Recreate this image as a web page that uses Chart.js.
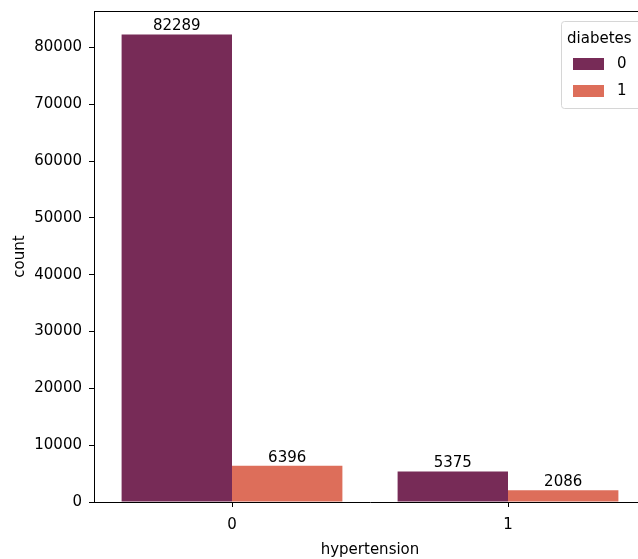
<!DOCTYPE html>
<html>
<head>
<meta charset="utf-8">
<script src="https://cdn.jsdelivr.net/npm/chart.js@4/dist/chart.umd.min.js"></script>
<style>
  body { margin: 0; overflow: hidden; background: #fff; }
  #wrap { width: 660px; height: 559px; position: relative; }
</style>
</head>
<body>
<div id="wrap"><canvas id="canvas"></canvas></div>
<script>
let categories = ['0', '1']
let diabetes0 = [82289, 5375]
let diabetes1 = [6396, 2086]
let seriesNames = ['0', '1']
let colors = ['#772B57', '#DD6E5A']
let yTicks = [0, 10000, 20000, 30000, 40000, 50000, 60000, 70000, 80000]

let font = 'DejaVu Sans'
Chart.defaults.font.family = font
Chart.defaults.font.size = 15
Chart.defaults.color = '#000'

let ctx = document.getElementById('canvas').getContext('2d')

// top spine, bar value labels and the seaborn style legend
let extras = {
    id: 'extras',
    afterDraw(chart) {
        let c = chart.ctx
        let area = chart.chartArea
        c.save()
        c.strokeStyle = '#000'
        c.lineWidth = 1
        c.beginPath()
        c.moveTo(area.left, area.top + 0.5)
        c.lineTo(chart.width, area.top + 0.5)
        c.stroke()

        c.font = '15px "' + font + '"'
        c.fillStyle = '#000'
        c.textAlign = 'center'
        c.textBaseline = 'alphabetic'
        chart.data.datasets.forEach(function(ds, i) {
            chart.getDatasetMeta(i).data.forEach(function(bar, j) {
                c.fillText(String(ds.data[j]), bar.x, bar.y - 4)
            })
        })

        // legend
        let lx = 561, ly = 21, lw = 110, lh = 87
        c.beginPath()
        c.roundRect(lx + 0.5, ly + 0.5, lw, lh, 3)
        c.fillStyle = 'rgba(255,255,255,0.8)'
        c.fill()
        c.strokeStyle = '#d6d6d6'
        c.stroke()
        c.fillStyle = '#000'
        c.textAlign = 'left'
        c.textBaseline = 'middle'
        c.fillText('diabetes', 567, 39)
        seriesNames.forEach(function(name, i) {
            let cy = 64 + i * 27
            c.fillStyle = colors[i]
            c.fillRect(573, cy - 6, 31, 12)
            c.fillStyle = '#000'
            c.fillText(name, 617, cy)
        })
        c.restore()
    }
}

new Chart(ctx, {
    type: 'bar',
    data: {
        labels: categories,
        datasets: [
            { label: seriesNames[0], data: diabetes0, backgroundColor: colors[0] },
            { label: seriesNames[1], data: diabetes1, backgroundColor: colors[1] }
        ]
    },
    options: {
        responsive: true,
        maintainAspectRatio: false,
        animation: false,
        categoryPercentage: 0.8,
        barPercentage: 1.0,
        layout: { padding: { top: 11, right: 14, left: 0, bottom: 0 } },
        plugins: {
            legend: { display: false },
            tooltip: { enabled: false }
        },
        scales: {
            x: {
                grid: { display: true, drawOnChartArea: false, offset: false, tickLength: 5, color: '#000' },
                border: { display: true, color: '#000', width: 1 },
                ticks: { padding: 9, color: '#000' },
                title: { display: true, text: 'hypertension', padding: { top: 0, bottom: 0 } },
                afterFit(s) { s.height = 57 }
            },
            y: {
                min: 0,
                max: Math.max(...diabetes0, ...diabetes1) * 1.05,
                grid: { display: true, drawOnChartArea: false, tickLength: 5, color: '#000' },
                border: { display: true, color: '#000', width: 1 },
                ticks: { stepSize: 10000, padding: 7, color: '#000', callback: v => String(v) },
                afterBuildTicks(s) { s.ticks = yTicks.map(v => ({ value: v })) },
                title: { display: true, text: 'count', padding: { top: 11, bottom: 0 } },
                afterFit(s) { s.width = 94; s.paddingTop = 0; s.paddingBottom = 0 }
            }
        }
    },
    plugins: [extras]
})
</script>
</body>
</html>
